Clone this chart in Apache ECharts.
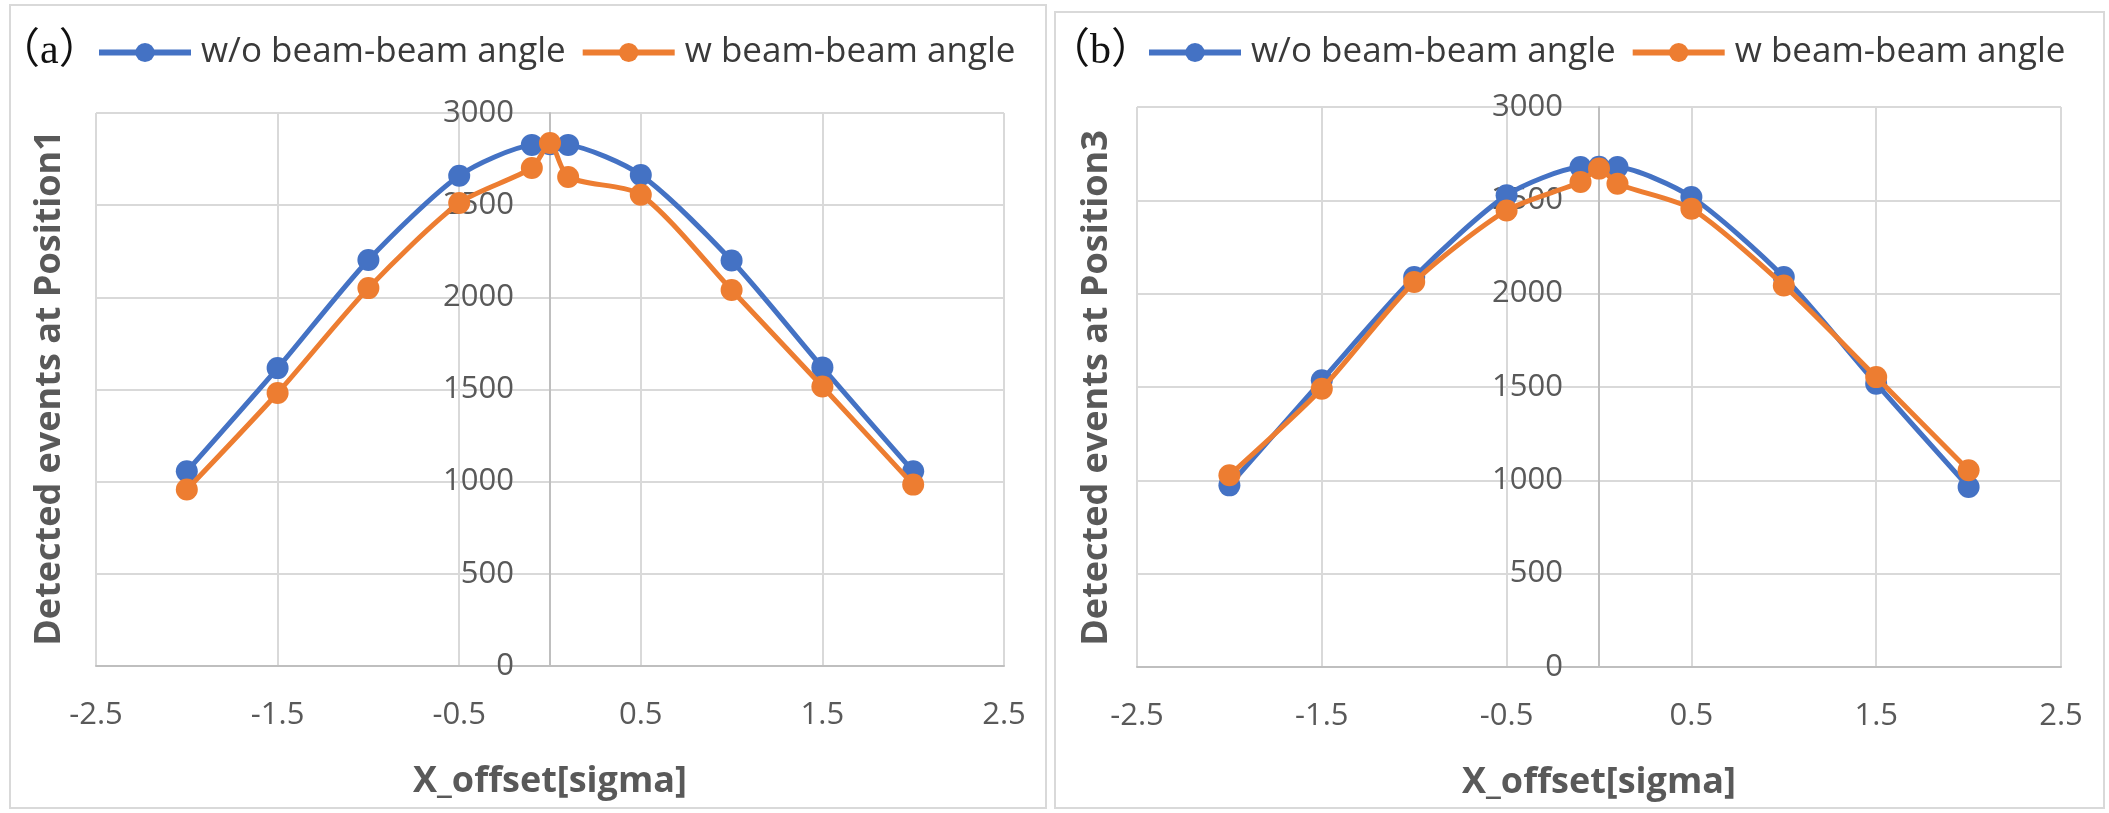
<!DOCTYPE html>
<html>
<head>
<meta charset="utf-8">
<title>Detected events vs X_offset</title>
<script src="https://cdn.jsdelivr.net/npm/echarts@6/dist/echarts.min.js"></script>
<style>
  html, body { margin: 0; padding: 0; background: #fff; }
  #main { width: 2109px; height: 813px; }
</style>
</head>
<body>
<div id="main"></div>
<script>
// x 偏移 (sigma)
const xOffsets = [-2, -1.5, -1, -0.5, -0.1, 0, 0.1, 0.5, 1, 1.5, 2];

// (a) Position1
const pos1Without = [1056, 1616, 2203, 2660, 2827, 2830, 2827, 2664, 2200, 1620, 1056];
const pos1With = [957, 1481, 2050, 2512, 2702, 2837, 2653, 2556, 2040, 1516, 984];

// (b) Position3
const pos3Without = [973, 1536, 2089, 2527, 2678, 2680, 2678, 2518, 2089, 1518, 964];
const pos3With = [1027, 1491, 2062, 2446, 2598, 2670, 2589, 2455, 2044, 1553, 1054];

// 刻度
const xTicks = [-2.5, -1.5, -0.5, 0.5, 1.5, 2.5];
const yTicks = [0, 500, 1000, 1500, 2000, 2500, 3000];

const seriesNames = ["w/o beam-beam angle", "w beam-beam angle"];
const colors = ["#4472C4", "#ED7D31"];

const font = "Open Sans";
const textColor = "#595959";

// 两个面板的绘图区 (px)
const grids = [
  { left: 96, width: 908, top: 113, bottom: 147 },
  { left: 1137, width: 924, top: 107, bottom: 146 },
];

const chart = echarts.init(document.getElementById("main"));

function pairs(values) {
  return xOffsets.map((x, i) => [x, values[i]]);
}

function makeXAxis(gridIndex) {
  return {
    gridIndex,
    type: "value",
    min: xTicks[0],
    max: xTicks[xTicks.length - 1],
    interval: xTicks[1] - xTicks[0],
    name: "X_offset[sigma]",
    nameLocation: "middle",
    nameGap: 98,
    nameTextStyle: { fontFamily: font, fontSize: 36, fontWeight: "bold", color: textColor },
    axisLine: { show: true, onZero: false, lineStyle: { color: "#bfbfbf", width: 2 } },
    axisTick: { show: false },
    axisLabel: { margin: 34, fontFamily: font, fontSize: 31, color: textColor },
    splitLine: { show: true, lineStyle: { color: "#d9d9d9", width: 2 } },
  };
}

function makeYAxis(gridIndex) {
  // y 轴放在 x=0 处 (绘图区正中)
  return {
    gridIndex,
    type: "value",
    min: yTicks[0],
    max: yTicks[yTicks.length - 1],
    interval: yTicks[1] - yTicks[0],
    offset: -grids[gridIndex].width / 2,
    axisLine: { show: true, onZero: false, lineStyle: { color: "#bfbfbf", width: 2 } },
    axisTick: { show: false },
    axisLabel: {
      margin: 36,
      fontFamily: font,
      fontSize: 31,
      color: textColor,
      formatter: (v) => String(v),
    },
    splitLine: { show: true, lineStyle: { color: "#d9d9d9", width: 2 } },
  };
}

function makeSeries(axisIndex, values, k) {
  return {
    name: seriesNames[k],
    type: "line",
    xAxisIndex: axisIndex,
    yAxisIndex: axisIndex,
    data: pairs(values),
    smooth: 0.25,
    symbol: "circle",
    symbolSize: 22,
    color: colors[k],
    lineStyle: { width: 5, color: colors[k] },
    itemStyle: { color: colors[k] },
    z: 2 + k,
  };
}

function makeLegend(left) {
  return {
    left,
    top: 30,
    itemWidth: 92,
    itemHeight: 24,
    itemGap: 14,
    data: seriesNames,
    lineStyle: { width: 6 },
    textStyle: { fontFamily: font, fontSize: 35, color: "#3a3a3a", padding: [0, 0, 0, 5] },
  };
}

function panelLabel(text, x) {
  return {
    type: "text",
    x,
    y: 52,
    style: {
      text,
      fontFamily: "Liberation Serif, Noto Sans CJK SC",
      fontSize: 42,
      fill: "#111",
      align: "left",
      verticalAlign: "middle",
    },
  };
}

function yTitle(text, x) {
  return {
    type: "text",
    x,
    y: 388,
    rotation: Math.PI / 2,
    style: {
      text,
      fontFamily: font,
      fontSize: 36,
      fontWeight: "bold",
      fill: textColor,
      align: "center",
      verticalAlign: "middle",
    },
  };
}

const options = {
  backgroundColor: "#fff",
  animation: false,
  grid: grids.map((g) => ({
    left: g.left,
    right: 2109 - g.left - g.width,
    top: g.top,
    bottom: g.bottom,
  })),
  legend: [makeLegend(91), makeLegend(1141)],
  xAxis: [makeXAxis(0), makeXAxis(1)],
  yAxis: [makeYAxis(0), makeYAxis(1)],
  series: [
    makeSeries(0, pos1Without, 0),
    makeSeries(0, pos1With, 1),
    makeSeries(1, pos3Without, 0),
    makeSeries(1, pos3With, 1),
  ],
  graphic: [
    // 面板边框
    { type: "rect", shape: { x: 10, y: 5, width: 1036, height: 803 }, style: { fill: "none", stroke: "#d9d9d9", lineWidth: 2 } },
    { type: "rect", shape: { x: 1055, y: 12, width: 1049, height: 796 }, style: { fill: "none", stroke: "#d9d9d9", lineWidth: 2 } },
    panelLabel("（a）", -2),
    panelLabel("（b）", 1048),
    yTitle("Detected events at Position1", 50),
    yTitle("Detected events at Position3", 1097),
  ],
};

chart.setOption(options);

window.addEventListener("resize", () => {
  chart.resize();
});
</script>
</body>
</html>
